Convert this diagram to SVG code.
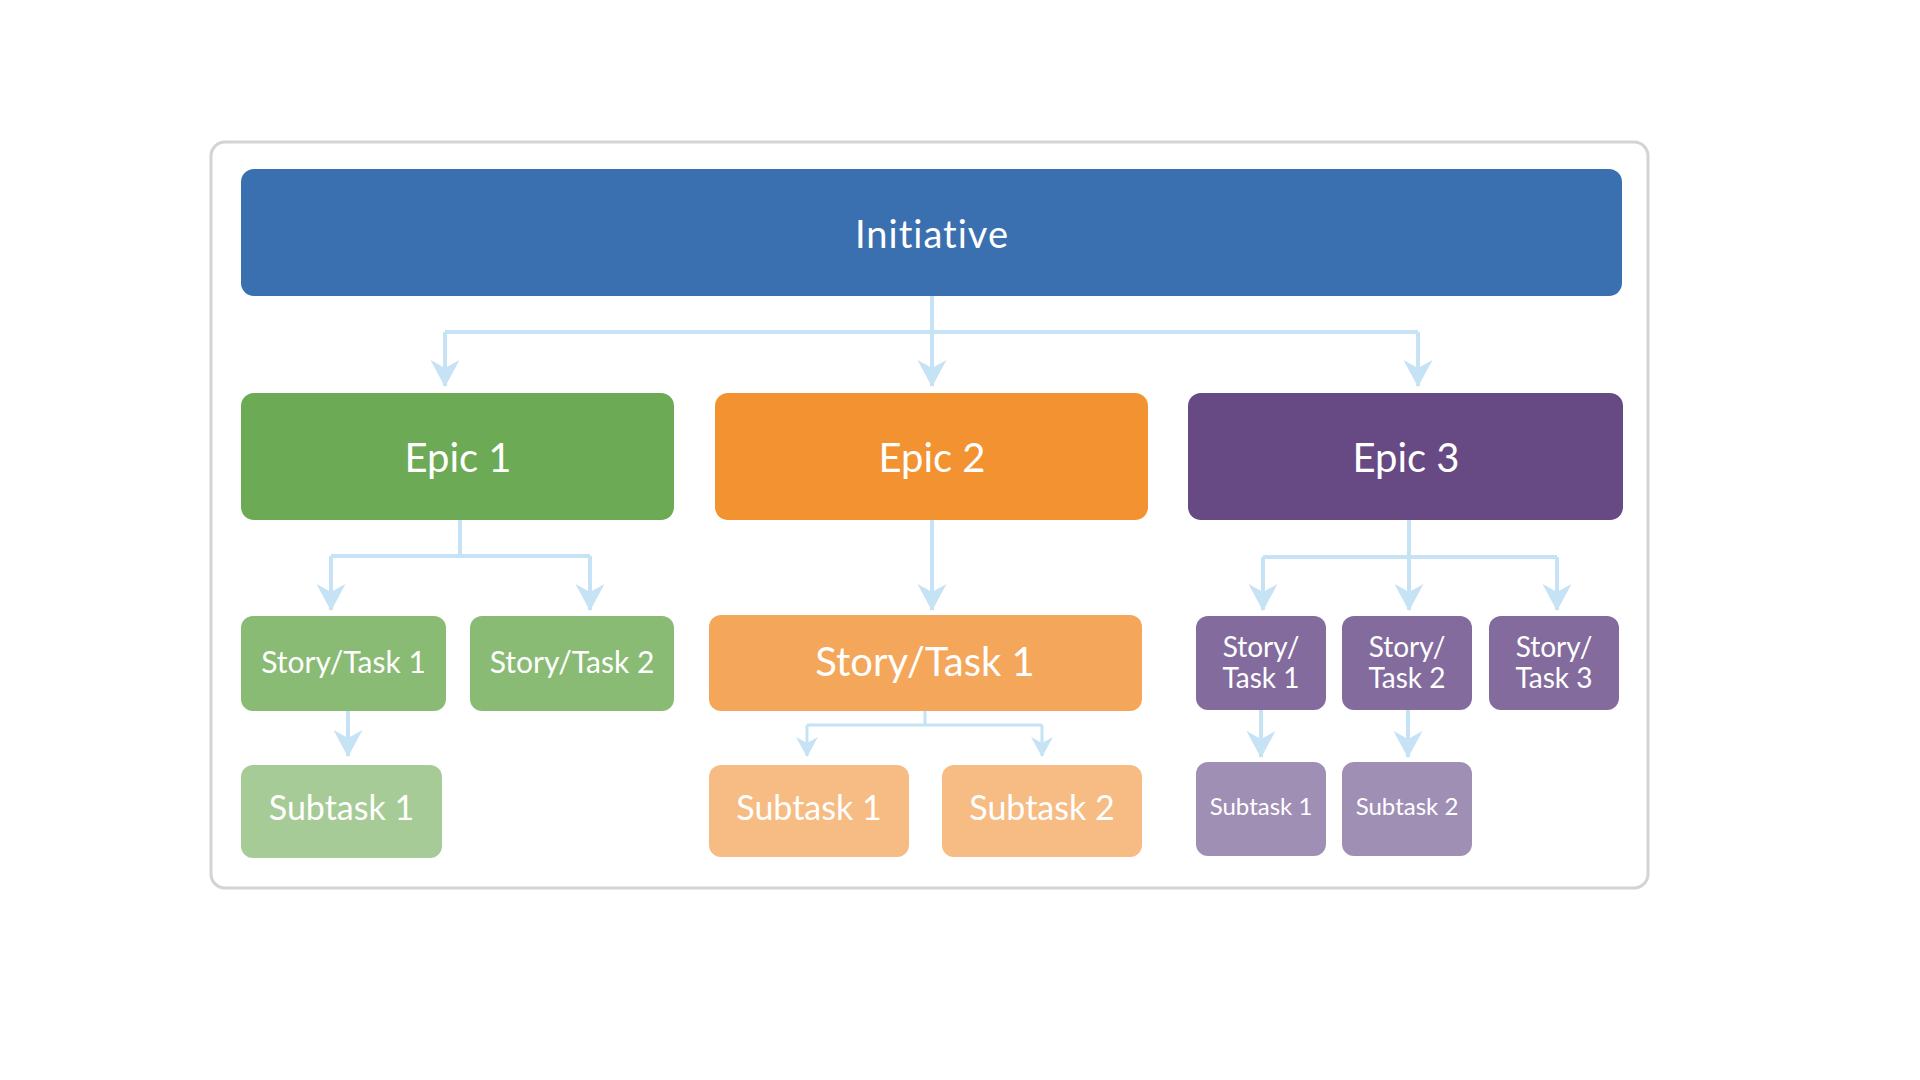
<svg xmlns="http://www.w3.org/2000/svg" width="1920" height="1080" viewBox="0 0 1920 1080">
<style>
  text { font-family: Lato, "Open Sans", "Liberation Sans", sans-serif; fill: #ffffff; text-anchor: middle; font-variant-ligatures: none; font-feature-settings: "liga" 0, "clig" 0; }
  .conn { fill: none; stroke: #C6E2F5; stroke-width: 4; }
  .connS { fill: none; stroke: #C6E2F5; stroke-width: 3; }
</style>
<defs>
  <marker id="arr" markerUnits="userSpaceOnUse" viewBox="0 0 27 29" markerWidth="27" markerHeight="29" refX="26" refY="14.5" orient="auto">
    <path d="M0,0 L27,14.5 L0,29 L8,14.5 Z" fill="#C6E2F5"/>
  </marker>
  <marker id="arrS" markerUnits="userSpaceOnUse" viewBox="0 0 20 22" markerWidth="20" markerHeight="22" refX="19" refY="11" orient="auto">
    <path d="M0,0 L20,11 L0,22 L6,11 Z" fill="#C6E2F5"/>
  </marker>
</defs>
<rect width="1920" height="1080" fill="#ffffff"/>
<rect id="frame" x="211" y="142" width="1437" height="746" rx="14" fill="none" stroke="#D3D3D3" stroke-width="3"/>

<g id="connectors">
  <path class="conn" d="M932,296 V332"/>
  <path class="conn" d="M445,332 H1418"/>
  <path class="conn" d="M445,332 V386" marker-end="url(#arr)"/>
  <path class="conn" d="M932,332 V386" marker-end="url(#arr)"/>
  <path class="conn" d="M1418,332 V386" marker-end="url(#arr)"/>

  <path class="conn" d="M460,520 V556 M331,556 H590"/>
  <path class="conn" d="M331,556 V610" marker-end="url(#arr)"/>
  <path class="conn" d="M590,556 V610" marker-end="url(#arr)"/>

  <path class="conn" d="M932,520 V610" marker-end="url(#arr)"/>

  <path class="conn" d="M1263,557 H1557"/>
  <path class="conn" d="M1409,520 V610" marker-end="url(#arr)"/>
  <path class="conn" d="M1263,557 V610" marker-end="url(#arr)"/>
  <path class="conn" d="M1557,557 V610" marker-end="url(#arr)"/>

  <path class="conn" d="M348,711 V756" marker-end="url(#arr)"/>

  <path class="connS" d="M925,711 V725 M807,725 H1042"/>
  <path class="connS" d="M807,725 V756" marker-end="url(#arrS)"/>
  <path class="connS" d="M1042,725 V756" marker-end="url(#arrS)"/>

  <path class="conn" d="M1261,710 V757" marker-end="url(#arr)"/>
  <path class="conn" d="M1408,710 V757" marker-end="url(#arr)"/>
</g>

<g id="initiative">
  <rect x="241" y="169" width="1381" height="127" rx="13" fill="#3A70AF"/>
  <text x="932" y="248" font-size="38" letter-spacing="1">Initiative</text>
</g>

<g id="epic1">
  <rect x="241" y="393" width="433" height="127" rx="13" fill="#6CAA55"/>
  <text x="458" y="472" font-size="40">Epic 1</text>
</g>
<g id="epic2">
  <rect x="715" y="393" width="433" height="127" rx="13" fill="#F39231"/>
  <text x="932" y="472" font-size="40">Epic 2</text>
</g>
<g id="epic3">
  <rect x="1188" y="393" width="435" height="127" rx="13" fill="#674983"/>
  <text x="1406" y="472" font-size="40">Epic 3</text>
</g>

<g id="e1-story1">
  <rect x="241" y="616" width="205" height="95" rx="12" fill="#8ABB75"/>
  <text x="343.5" y="673" font-size="30">Story/Task 1</text>
</g>
<g id="e1-story2">
  <rect x="470" y="616" width="204" height="95" rx="12" fill="#8ABB75"/>
  <text x="572" y="673" font-size="30">Story/Task 2</text>
</g>
<g id="e1-subtask1">
  <rect x="241" y="765" width="201" height="93" rx="12" fill="#A7CB96"/>
  <text x="341.5" y="820" font-size="34">Subtask 1</text>
</g>

<g id="e2-story1">
  <rect x="709" y="615" width="433" height="96" rx="12" fill="#F4A75A"/>
  <text x="925" y="676" font-size="40">Story/Task 1</text>
</g>
<g id="e2-subtask1">
  <rect x="709" y="765" width="200" height="92" rx="12" fill="#F7BC84"/>
  <text x="809" y="820" font-size="34">Subtask 1</text>
</g>
<g id="e2-subtask2">
  <rect x="942" y="765" width="200" height="92" rx="12" fill="#F7BC84"/>
  <text x="1042" y="820" font-size="34">Subtask 2</text>
</g>

<g id="e3-story1">
  <rect x="1196" y="616" width="130" height="94" rx="12" fill="#836C9D"/>
  <text x="1261" y="657" font-size="28">Story/</text>
  <text x="1261" y="688" font-size="28">Task 1</text>
</g>
<g id="e3-story2">
  <rect x="1342" y="616" width="130" height="94" rx="12" fill="#836C9D"/>
  <text x="1407" y="657" font-size="28">Story/</text>
  <text x="1407" y="688" font-size="28">Task 2</text>
</g>
<g id="e3-story3">
  <rect x="1489" y="616" width="130" height="94" rx="12" fill="#836C9D"/>
  <text x="1554" y="657" font-size="28">Story/</text>
  <text x="1554" y="688" font-size="28">Task 3</text>
</g>
<g id="e3-subtask1">
  <rect x="1196" y="762" width="130" height="94" rx="12" fill="#A08FB5"/>
  <text x="1261" y="815" font-size="24">Subtask 1</text>
</g>
<g id="e3-subtask2">
  <rect x="1342" y="762" width="130" height="94" rx="12" fill="#A08FB5"/>
  <text x="1407" y="815" font-size="24">Subtask 2</text>
</g>
</svg>
